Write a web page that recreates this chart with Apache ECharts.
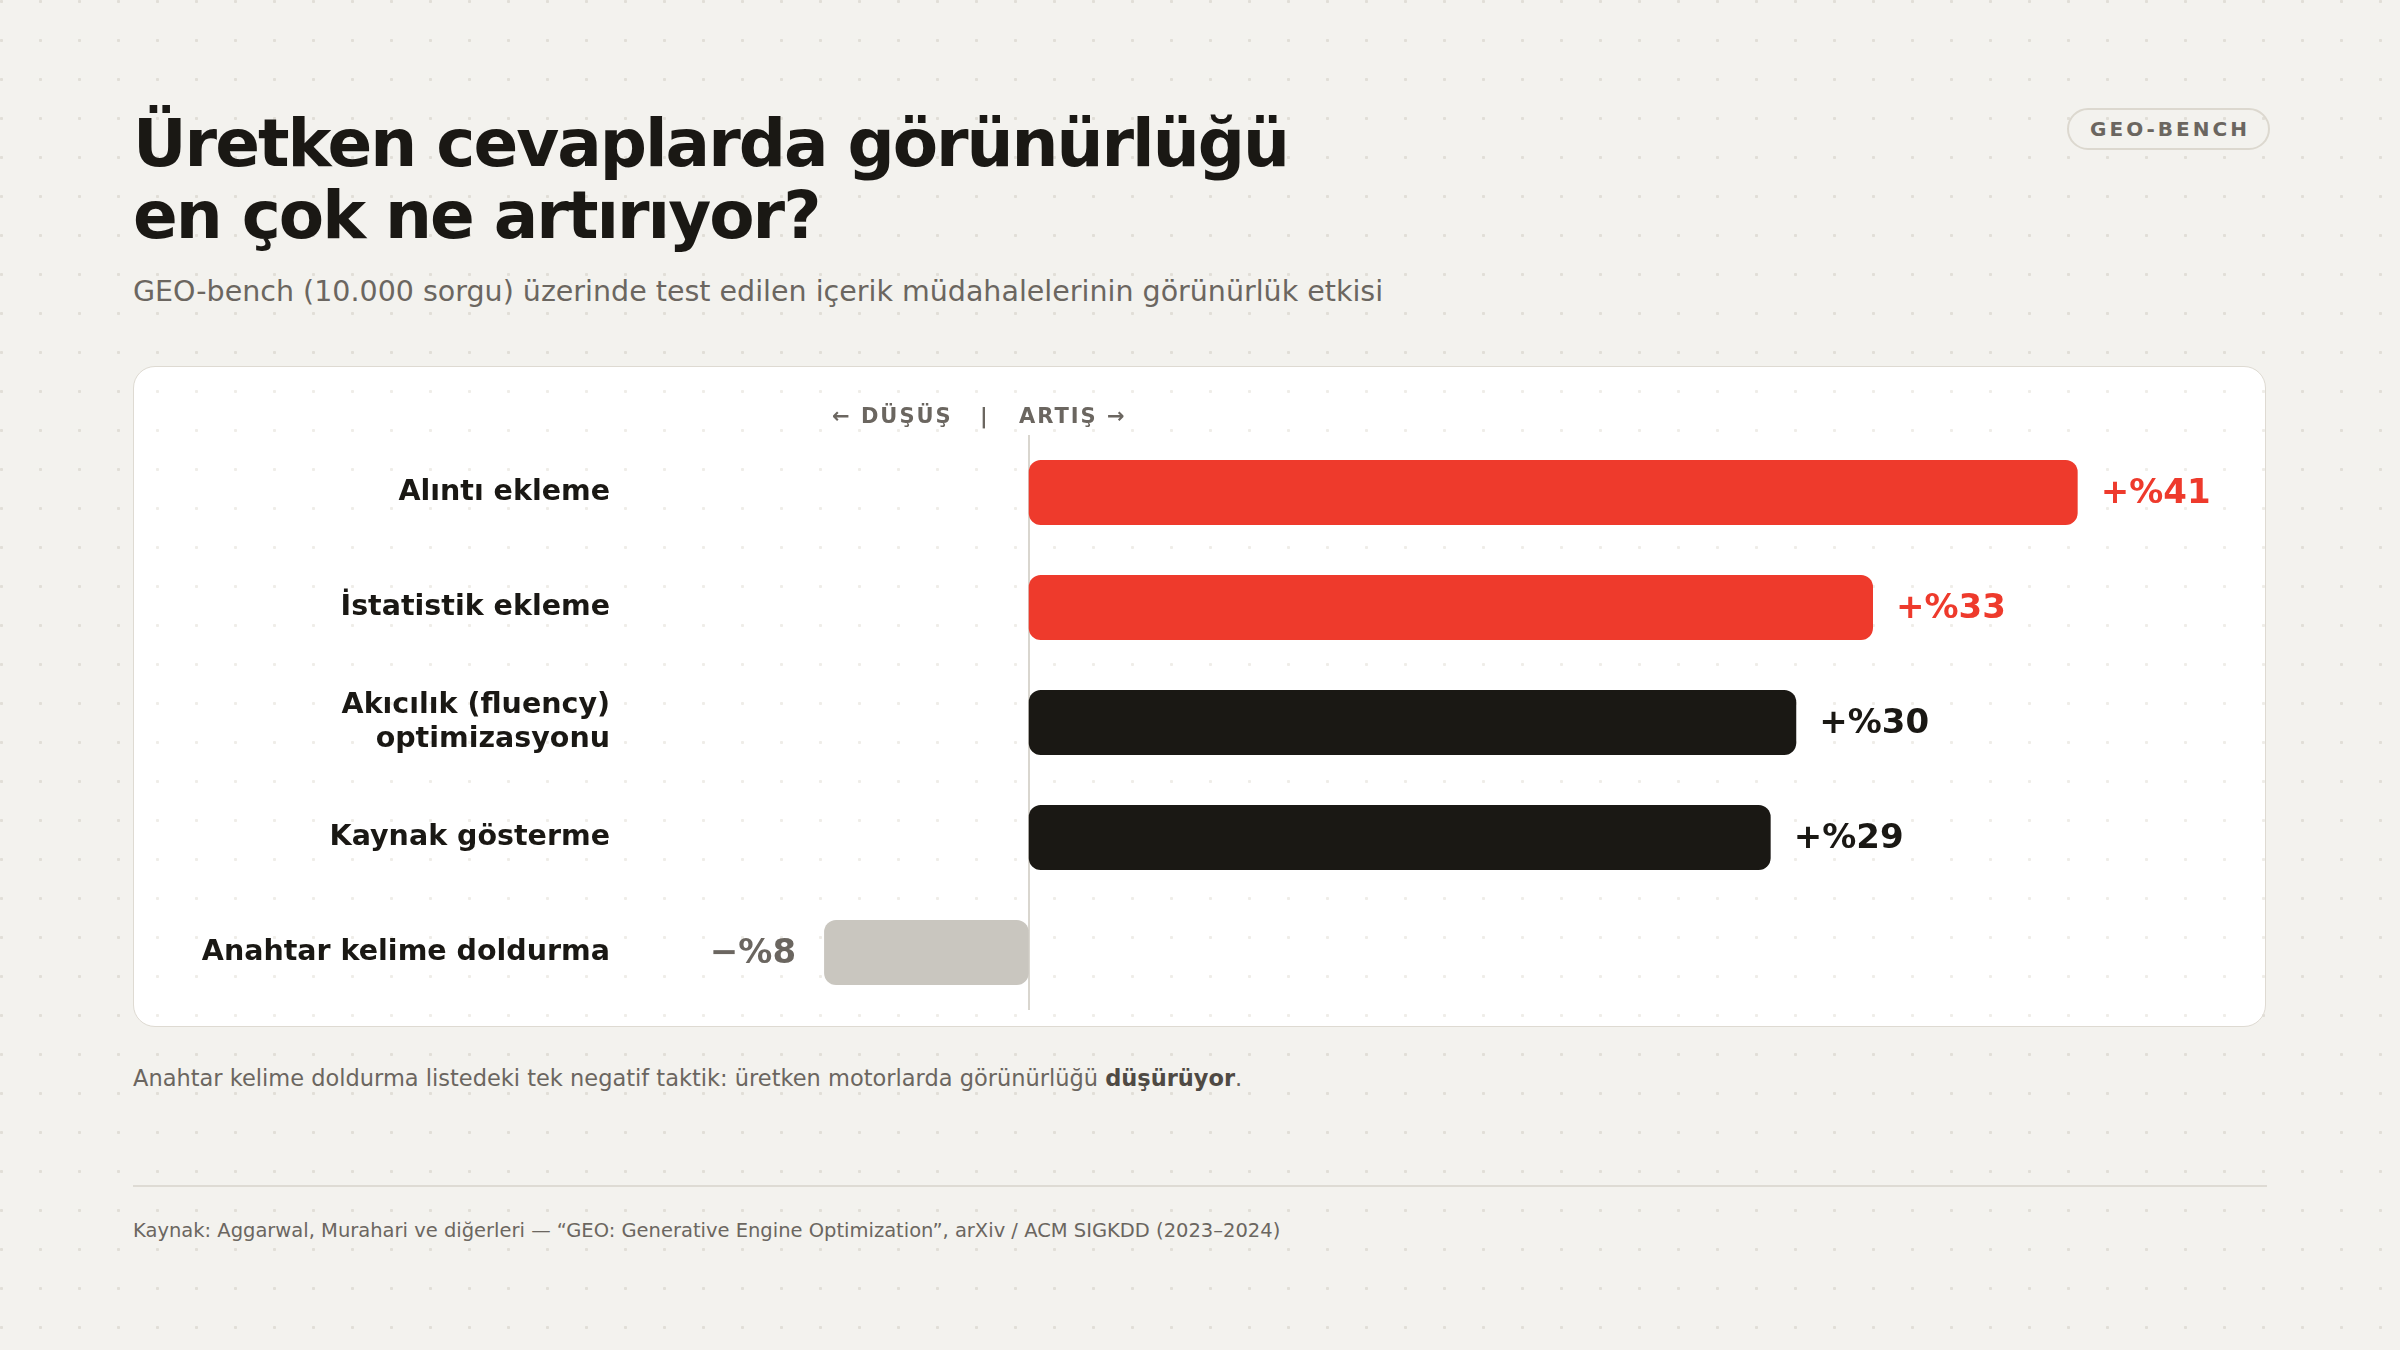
<!DOCTYPE html>
<html lang="tr">
<head>
<meta charset="utf-8">
<script src="https://cdn.jsdelivr.net/npm/echarts@6/dist/echarts.min.js"></script>
<style>
  html, body { margin: 0; padding: 0; }
  body {
    width: 2400px; height: 1350px; position: relative; overflow: hidden;
    font-family: "DejaVu Sans", sans-serif;
    background-color: #f3f2ee;
    background-image: radial-gradient(circle, #e1ded7 1.3px, transparent 1.8px);
    background-size: 39px 39px;
    background-position: -18px -18px;
  }
  .abs { position: absolute; }
  #title {
    left: 133px; top: 108px; margin: 0;
    font-size: 66px; line-height: 72px; font-weight: bold; color: #1a1814;
    letter-spacing: -2px;
  }
  #subtitle {
    left: 133px; top: 275px; font-size: 28.5px; line-height: 34px; color: #6b6660;
  }
  #badge {
    left: 2067px; top: 108px; width: 196px; height: 38px;
    border: 2px solid #dcd8cf; border-radius: 22px;
    font-size: 20px; line-height: 38px; font-weight: bold; color: #6b6660;
    letter-spacing: 3px; text-align: center; padding-left: 3px; box-sizing: content-box;
  }
  #card {
    left: 133px; top: 366px; width: 2131px; height: 659px;
    border: 1.5px solid #dedad2; border-radius: 22px;
    background-color: #ffffff;
    background-image: radial-gradient(circle, #efede8 1.3px, transparent 1.8px);
    background-size: 39px 39px;
    background-position: -18px -18px;
    background-attachment: fixed;
    overflow: hidden;
  }
  #chart { position: absolute; left: 0; top: 0; width: 2131px; height: 659px; }
  .dir {
    position: absolute; top: 36px; font-size: 21px; line-height: 26px; font-weight: bold;
    color: #6b6660; letter-spacing: 2px; white-space: nowrap; z-index: 2;
  }
  #note {
    left: 133px; top: 1065px; font-size: 22.5px; line-height: 27px; color: #6b6660;
  }
  #note b { color: #4f4a44; }
  #rule { left: 133px; top: 1185px; width: 2134px; height: 2px; background: #dedbd4; }
  #source {
    left: 133px; top: 1219px; font-size: 19.5px; line-height: 24px; color: #6b6660;
  }
</style>
</head>
<body>
<h1 id="title" class="abs">Üretken cevaplarda görünürlüğü<br>en çok ne artırıyor?</h1>
<div id="subtitle" class="abs">GEO-bench (10.000 sorgu) üzerinde test edilen içerik müdahalelerinin görünürlük etkisi</div>
<div id="badge" class="abs">GEO-BENCH</div>
<div id="card" class="abs">
  <div id="chart"></div>
  <span class="dir" style="left:698px">← DÜŞÜŞ</span>
  <span class="dir" style="left:846px">|</span>
  <span class="dir" style="left:885px">ARTIŞ →</span>
</div>
<div id="note" class="abs">Anahtar kelime doldurma listedeki tek negatif taktik: üretken motorlarda görünürlüğü <b>düşürüyor</b>.</div>
<div id="rule" class="abs"></div>
<div id="source" class="abs">Kaynak: Aggarwal, Murahari ve diğerleri — “GEO: Generative Engine Optimization”, arXiv / ACM SIGKDD (2023–2024)</div>

<script>
// taktikler ve görünürlük değişimi (%)
var tactics = ['Alıntı ekleme', 'İstatistik ekleme', 'Akıcılık (fluency)\noptimizasyonu', 'Kaynak gösterme', 'Anahtar kelime doldurma'];
var changes = [41, 33, 30, 29, -8];
var valueLabels = ['+%41', '+%33', '+%30', '+%29', '−%8'];
var barColors = ['#ee3a2c', '#ee3a2c', '#1a1814', '#1a1814', '#c9c6bf'];
var labelColors = ['#ee3a2c', '#ee3a2c', '#1a1814', '#1a1814', '#6b6660'];

var font = '"DejaVu Sans", sans-serif';

var barData = changes.map(function (v, i) {
  return {
    value: v,
    itemStyle: { color: barColors[i] },
    label: {
      show: true,
      position: v < 0 ? 'left' : 'right',
      distance: v < 0 ? 28 : 23,
      offset: [0, 2],
      formatter: valueLabels[i],
      color: labelColors[i],
      fontSize: 34,
      fontWeight: 'bold',
      fontFamily: font
    }
  };
});

var chart = echarts.init(document.getElementById('chart'), null, { renderer: 'canvas' });

var option = {
  animation: false,
  grid: { left: 511, right: 85, top: 68, bottom: 16 },
  xAxis: {
    type: 'value',
    min: -15,
    max: 45,
    show: false
  },
  yAxis: {
    type: 'category',
    data: tactics,
    inverse: true,
    axisLine: { show: false },
    axisTick: { show: false },
    axisLabel: {
      margin: 35,
      color: '#1a1814',
      fontSize: 28.5,
      lineHeight: 34,
      fontWeight: 'bold',
      fontFamily: font,
      align: 'right'
    }
  },
  series: [
    {
      type: 'bar',
      data: barData,
      barWidth: 65,
      itemStyle: { borderRadius: 12 },
      silent: true,
      z: 3,
      markLine: {
        silent: true,
        symbol: 'none',
        label: { show: false },
        lineStyle: { color: '#d9d6cf', width: 2, type: 'solid' },
        data: [{ xAxis: 0 }],
        z: 1
      }
    }
  ]
};

chart.setOption(option);
</script>
</body>
</html>
